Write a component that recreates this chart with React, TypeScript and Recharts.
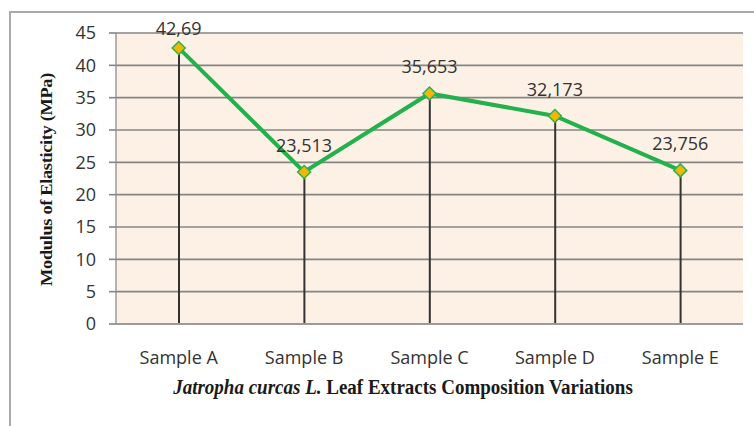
import React from 'react';
import { ComposedChart, Line, Bar, XAxis, YAxis, CartesianGrid, LabelList, Label } from 'recharts';

const categories = ['Sample A', 'Sample B', 'Sample C', 'Sample D', 'Sample E'];
const modulusValues = [42.69, 23.513, 35.653, 32.173, 23.756];
const yTicks = [0, 5, 10, 15, 20, 25, 30, 35, 40, 45];

const data = categories.map((name, i) => ({ name, value: modulusValues[i] }));

const TICK_FONT = '"Open Sans", sans-serif';
const TEXT_COLOR = '#333333';
const TITLE_FONT = '"Liberation Serif", "Times New Roman", serif';

const Diamond = (props: any) => {
  const { cx, cy } = props;
  if (cx == null || cy == null) return null;
  const r = 6.5;
  return (
    <path
      d={`M${cx},${cy - r} L${cx + r},${cy} L${cx},${cy + r} L${cx - r},${cy} Z`}
      fill="#F2B705"
      stroke="#2DB34A"
      strokeWidth={1.5}
    />
  );
};

const ValueLabel = (props: any) => {
  const { x, y, value } = props;
  return (
    <text
      x={x}
      y={Math.max(y - 20, 35)}
      textAnchor="middle"
      fontFamily={TICK_FONT}
      fontSize={18}
      fill={TEXT_COLOR}
    >
      {String(value).replace('.', ',')}
    </text>
  );
};

const YTitle = (props: any) => {
  const { viewBox } = props;
  const cx = 47;
  const cy = viewBox.y + viewBox.height / 2 + 1;
  return (
    <text
      x={0}
      y={0}
      transform={`translate(${cx}, ${cy}) rotate(-90) scale(1.15, 1)`}
      textAnchor="middle"
      dominantBaseline="central"
      fontFamily={TITLE_FONT}
      fontWeight="bold"
      fontSize={16}
      letterSpacing={-0.3}
      fill="#1a1a1a"
    >
      Modulus of Elasticity (MPa)
    </text>
  );
};

const XTitle = (props: any) => {
  const { viewBox } = props;
  const x = 403;
  const y = viewBox.y + 70;
  return (
    <text
      x={0}
      y={0}
      transform={`translate(${x}, ${y}) scale(1, 1.15)`}
      textAnchor="middle"
      fontFamily={TITLE_FONT}
      fontWeight="bold"
      fontSize={19}
      fill="#1a1a1a"
    >
      <tspan fontStyle="italic">Jatropha curcas L.</tspan>
      <tspan> Leaf Extracts Composition Variations</tspan>
    </text>
  );
};

export default function App() {
  return (
    <div style={{ position: 'absolute', left: 0, top: 0, width: 754, height: 426, background: '#fff', overflow: 'hidden' }}>
      <div
        style={{
          position: 'absolute',
          left: 9,
          top: 11,
          width: 800,
          height: 500,
          border: '2px solid #a9a9a9',
          boxSizing: 'border-box',
        }}
      />
      <div style={{ position: 'absolute', left: 0, top: 0 }}>
        <ComposedChart
          width={754}
          height={426}
          data={data}
          margin={{ top: 33, right: 11, bottom: 0, left: 0 }}
        >
          <CartesianGrid vertical={false} stroke="#858585" strokeWidth={1.6} fill="#FDF1E5" fillOpacity={1} />
          <XAxis
            dataKey="name"
            height={102}
            tickLine={false}
            tickSize={0}
            tickMargin={27}
            axisLine={{ stroke: '#9a9a9a', strokeWidth: 2 }}
            tick={{ fontFamily: TICK_FONT, fontSize: 18, fill: TEXT_COLOR }}
            interval={0}
          >
            <Label content={<XTitle />} />
          </XAxis>
          <YAxis
            width={116}
            domain={[0, 45]}
            ticks={yTicks}
            interval={0}
            tickSize={7}
            tickMargin={13}
            tickLine={{ stroke: '#858585', strokeWidth: 1.6 }}
            axisLine={{ stroke: '#9a9a9a', strokeWidth: 1.5 }}
            tick={{ fontFamily: TICK_FONT, fontSize: 18, fill: TEXT_COLOR }}
          >
            <Label content={<YTitle />} />
          </YAxis>
          <Bar dataKey="value" barSize={2} fill="#333333" isAnimationActive={false} />
          <Line
            dataKey="value"
            stroke="#22B14C"
            strokeWidth={4}
            dot={<Diamond />}
            activeDot={false}
            isAnimationActive={false}
          >
            <LabelList dataKey="value" content={<ValueLabel />} />
          </Line>
        </ComposedChart>
      </div>
    </div>
  );
}
